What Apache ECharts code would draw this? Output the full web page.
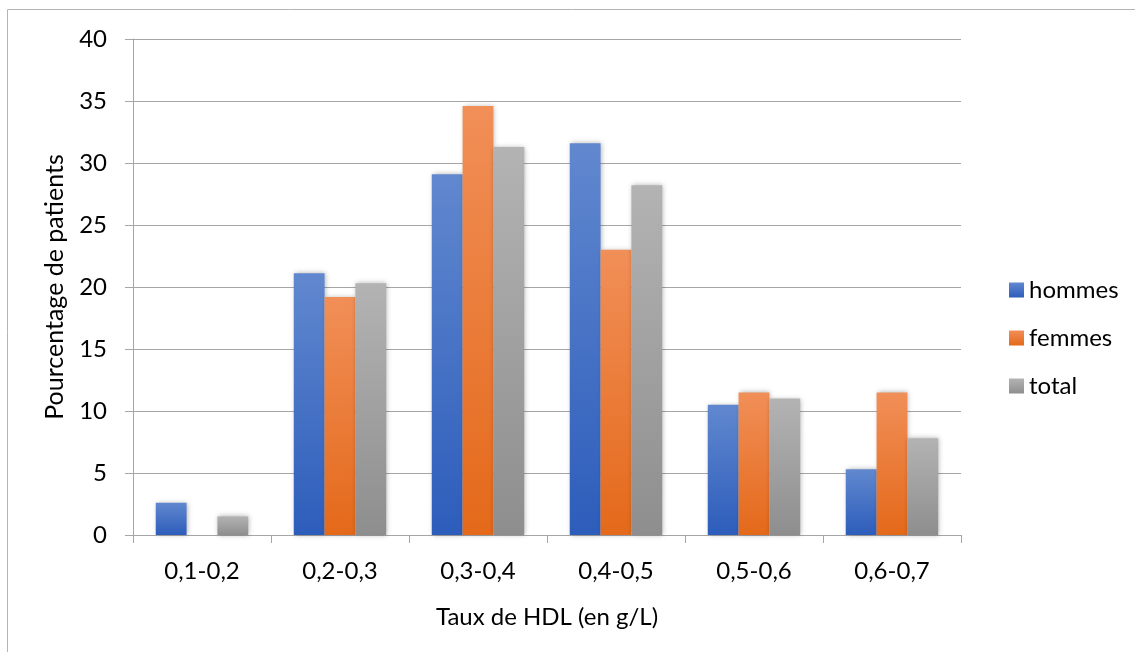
<!DOCTYPE html>
<html>
<head>
<meta charset="utf-8">
<script src="https://cdn.jsdelivr.net/npm/echarts@6/dist/echarts.min.js"></script>
<style>
html,body{margin:0;padding:0;background:#fff;}
#chart{width:1135px;height:652px;}
</style>
</head>
<body>
<div id="chart"></div>
<script>
const categories = ['0,1-0,2', '0,2-0,3', '0,3-0,4', '0,4-0,5', '0,5-0,6', '0,6-0,7'];
const hommes = [2.6, 21.1, 29.1, 31.6, 10.5, 5.3];
const femmes = [0, 19.2, 34.6, 23.0, 11.5, 11.5];
const total = [1.5, 20.3, 31.3, 28.2, 11.0, 7.8];
const yTicks = [0, 5, 10, 15, 20, 25, 30, 35, 40];

const FONT = 'Lato';
function grad(top, bottom) {
  return new echarts.graphic.LinearGradient(0, 0, 0, 1, [
    { offset: 0, color: top }, { offset: 1, color: bottom }
  ]);
}
function barSeries(name, data, top, bottom) {
  return {
    name: name, type: 'bar', data: data,
    barGap: '0%', barCategoryGap: '33%',
    itemStyle: {
      color: grad(top, bottom),
      shadowBlur: 5, shadowColor: 'rgba(0,0,0,0.3)', shadowOffsetX: 1, shadowOffsetY: 0
    }
  };
}
const chart = echarts.init(document.getElementById('chart'));
chart.setOption({
  backgroundColor: '#fff',
  animation: false,
  textStyle: { fontFamily: FONT },
  graphic: [{
    type: 'rect', silent: true, z: -10,
    shape: { x: 7.5, y: 9.5, width: 1150, height: 700 },
    style: { fill: 'none', stroke: '#b4b4b4', lineWidth: 1 }
  }],
  grid: { left: 133, right: 174, top: 39, bottom: 117 },
  legend: {
    orient: 'vertical', left: 1004, top: 273,
    itemWidth: 15, itemHeight: 15, itemGap: 24,
    icon: 'rect',
    textStyle: { fontFamily: FONT, fontSize: 24, color: '#000', lineHeight: 24, padding: [0, 0, 0, 0] },
    data: ['hommes', 'femmes', 'total']
  },
  xAxis: {
    type: 'category', data: categories,
    name: 'Taux de HDL (en g/L)', nameLocation: 'middle', nameGap: 70,
    nameTextStyle: { fontFamily: FONT, fontSize: 24, color: '#000' },
    axisLine: { lineStyle: { color: '#a6a6a6', width: 1 } },
    axisTick: { show: true, length: 8, lineStyle: { color: '#a6a6a6' } },
    axisLabel: { fontFamily: FONT, fontSize: 24, color: '#000', margin: 24 }
  },
  yAxis: {
    type: 'value', min: yTicks[0], max: yTicks[yTicks.length - 1], interval: 5,
    name: 'Pourcentage de patients', nameLocation: 'middle', nameGap: 66, nameRotate: 90,
    nameTextStyle: { fontFamily: FONT, fontSize: 25, color: '#000' },
    axisLine: { show: true, lineStyle: { color: '#a6a6a6', width: 1 } },
    axisTick: { show: true, length: 8, lineStyle: { color: '#a6a6a6' } },
    axisLabel: { fontFamily: FONT, fontSize: 24, color: '#000', margin: 26 },
    splitLine: { lineStyle: { color: '#a6a6a6', width: 1 } }
  },
  series: [
    barSeries('hommes', hommes, '#6188cf', '#2d5dbb'),
    barSeries('femmes', femmes, '#f18f58', '#e4691a'),
    barSeries('total', total, '#b3b3b3', '#8e8e8e')
  ]
});
</script>
</body>
</html>
